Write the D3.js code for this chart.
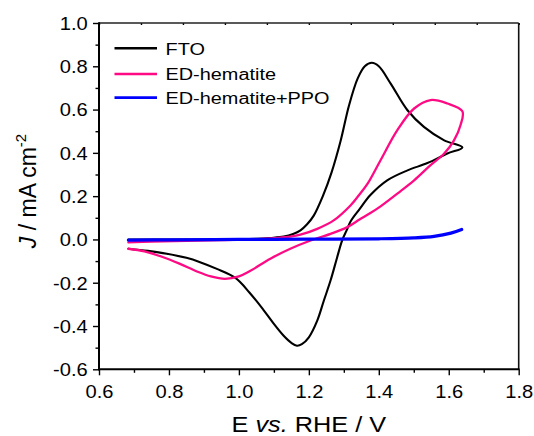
<!DOCTYPE html>
<html>
<head>
<meta charset="utf-8">
<script src="https://cdn.jsdelivr.net/npm/d3@7"></script>
<style>
  html, body { margin: 0; padding: 0; background: #fff; }
  svg { display: block; font-family: Arial, "Liberation Sans", sans-serif; }
</style>
</head>
<body>
<div id="chart"></div>
<script>
// ===== DATA =====
const seriesNames = ["FTO", "ED-hematite", "ED-hematite+PPO"];
const seriesColors = ["#000000", "#ff0a84", "#0000ff"];

// FTO: forward scan, then reverse scan  [E, J]
const ftoPoints = [
  [0.684, 0.0], [0.8, 0.0], [0.9, 0.0], [1.0, 0.001], [1.05, 0.003], [1.09, 0.007],
  [1.128, 0.013], [1.155, 0.025], [1.176, 0.042], [1.195, 0.07], [1.214, 0.11],
  [1.24, 0.2], [1.265, 0.31], [1.29, 0.45], [1.315, 0.62], [1.34, 0.745],
  [1.36, 0.80], [1.38, 0.816], [1.40, 0.80], [1.434, 0.72], [1.482, 0.597],
  [1.529, 0.52], [1.587, 0.458], [1.639, 0.425],
  [1.596, 0.397], [1.539, 0.353], [1.482, 0.319], [1.424, 0.273], [1.376, 0.205],
  [1.345, 0.14], [1.32, 0.085], [1.308, 0.042], [1.295, -0.005], [1.281, -0.082],
  [1.262, -0.19], [1.243, -0.282], [1.224, -0.375], [1.2, -0.452], [1.18, -0.484],
  [1.166, -0.491], [1.15, -0.478], [1.128, -0.445], [1.1, -0.39], [1.07, -0.325],
  [1.03, -0.245], [0.99, -0.178], [0.937, -0.136], [0.889, -0.105], [0.85, -0.085],
  [0.794, -0.066], [0.74, -0.053], [0.684, -0.043]
];

const hematitePoints = [
  [0.684, -0.014], [0.75, -0.01], [0.85, -0.006], [0.95, -0.003], [1.05, 0.0],
  [1.1, 0.006], [1.147, 0.013], [1.176, 0.022], [1.224, 0.049], [1.271, 0.088],
  [1.319, 0.157], [1.343, 0.204], [1.367, 0.255], [1.405, 0.366], [1.453, 0.505],
  [1.501, 0.605], [1.548, 0.644], [1.596, 0.628], [1.639, 0.592],
  [1.634, 0.53], [1.615, 0.458], [1.587, 0.397], [1.548, 0.343], [1.501, 0.273],
  [1.453, 0.212], [1.405, 0.153], [1.376, 0.122], [1.345, 0.092], [1.31, 0.057],
  [1.262, 0.026], [1.205, -0.005], [1.147, -0.043], [1.09, -0.089], [1.033, -0.145],
  [1.0, -0.171], [0.96, -0.182], [0.92, -0.171], [0.88, -0.148], [0.83, -0.112],
  [0.78, -0.08], [0.73, -0.055], [0.684, -0.043]
];

const ppoPoints = [
  [0.684, -0.003], [0.8, -0.002], [1.0, 0.0], [1.2, 0.001], [1.4, 0.003],
  [1.5, 0.007], [1.558, 0.014], [1.606, 0.029], [1.637, 0.046]
];

const xMajorTicks = [0.6, 0.8, 1.0, 1.2, 1.4, 1.6, 1.8];
const xMinorTicks = [0.7, 0.9, 1.1, 1.3, 1.5, 1.7];
const yMajorTicks = [-0.6, -0.4, -0.2, 0.0, 0.2, 0.4, 0.6, 0.8, 1.0];
const yMinorTicks = [-0.5, -0.3, -0.1, 0.1, 0.3, 0.5, 0.7, 0.9];

// ===== CHART =====
const width = 534, height = 436;
const plotLeft = 99, plotRight = 518.7, plotTop = 23, plotBottom = 369.3;
const stretch = 1.15;

const svg = d3.select("#chart").append("svg")
  .attr("width", width)
  .attr("height", height);

const x = d3.scaleLinear().domain([0.6, 1.8]).range([plotLeft, plotRight]);
const y = d3.scaleLinear().domain([-0.6, 1.0]).range([plotBottom, plotTop]);

const fmt = d => d.toFixed(1);

// bottom axis
const gx = svg.append("g").attr("transform", `translate(0,${plotBottom})`)
  .call(d3.axisBottom(x).tickValues(xMajorTicks).tickSize(6).tickPadding(10).tickFormat(fmt));
svg.append("g").attr("transform", `translate(0,${plotBottom})`)
  .call(d3.axisBottom(x).tickValues(xMinorTicks).tickSize(3.5).tickFormat(""));

// left axis
const gy = svg.append("g").attr("transform", `translate(${plotLeft},0)`)
  .call(d3.axisLeft(y).tickValues(yMajorTicks).tickSize(6).tickPadding(5).tickFormat(fmt));
svg.append("g").attr("transform", `translate(${plotLeft},0)`)
  .call(d3.axisLeft(y).tickValues(yMinorTicks).tickSize(3.5).tickFormat(""));

// top axis: small inward ticks
svg.append("g").attr("transform", `translate(0,${plotTop})`)
  .call(d3.axisBottom(d3.scaleLinear().domain([0, 10]).range([plotLeft, plotRight]))
    .ticks(10).tickSize(2).tickFormat(""));

svg.selectAll(".domain").remove();
svg.selectAll(".tick line").attr("stroke", "#000").attr("stroke-width", 1.4);

gx.selectAll("text")
  .attr("font-size", 17.5).attr("fill", "#000")
  .attr("font-family", "Arial, 'Liberation Sans', sans-serif")
  .attr("transform", `scale(${stretch},1)`);
gy.selectAll("text")
  .attr("font-size", 17.5).attr("fill", "#000")
  .attr("font-family", "Arial, 'Liberation Sans', sans-serif")
  .attr("x", -11.3 / stretch)
  .attr("dy", "0.36em")
  .attr("transform", `scale(${stretch},1)`);

// frame
svg.append("line").attr("x1", plotLeft).attr("x2", plotRight).attr("y1", plotTop).attr("y2", plotTop)
  .attr("stroke", "#222").attr("stroke-width", 1.4);
svg.append("line").attr("x1", plotRight).attr("x2", plotRight).attr("y1", plotTop).attr("y2", plotBottom)
  .attr("stroke", "#111").attr("stroke-width", 1.6);
svg.append("line").attr("x1", plotLeft).attr("x2", plotLeft).attr("y1", plotTop - 0.7).attr("y2", plotBottom + 1)
  .attr("stroke", "#000").attr("stroke-width", 2);
svg.append("line").attr("x1", plotLeft - 1).attr("x2", plotRight + 0.8).attr("y1", plotBottom).attr("y2", plotBottom)
  .attr("stroke", "#000").attr("stroke-width", 2);

// curves
const line = d3.line()
  .x(d => x(d[0]))
  .y(d => y(d[1]))
  .curve(d3.curveCatmullRom.alpha(0.5));

const series = [ftoPoints, hematitePoints, ppoPoints];
const widths = [2.1, 2.3, 3.2];

series.forEach((pts, i) => {
  svg.append("path")
    .datum(pts)
    .attr("d", line)
    .attr("fill", "none")
    .attr("stroke", seriesColors[i])
    .attr("stroke-width", widths[i])
    .attr("stroke-linejoin", "round")
    .attr("stroke-linecap", "round");
});

// legend
const legendY = [48.3, 74, 97.7];
seriesNames.forEach((name, i) => {
  svg.append("line")
    .attr("x1", 114.5).attr("x2", 157)
    .attr("y1", legendY[i]).attr("y2", legendY[i])
    .attr("stroke", seriesColors[i])
    .attr("stroke-width", i === 2 ? 2.8 : 2.4);
  svg.append("text")
    .attr("transform", `translate(165.5,${legendY[i]}) scale(${stretch},1)`)
    .attr("dy", "0.36em")
    .attr("font-size", 17.3)
    .attr("fill", "#000")
    .text(name);
});

// x title
const xt = svg.append("text")
  .attr("transform", `translate(${(plotLeft + plotRight) / 2},432) scale(${stretch},1)`)
  .attr("text-anchor", "middle")
  .attr("font-size", 22)
  .attr("fill", "#000");
xt.append("tspan").text("E ");
xt.append("tspan").attr("font-style", "italic").text("vs.");
xt.append("tspan").text(" RHE / V");

// y title
const yt = svg.append("text")
  .attr("transform", `translate(36,191) rotate(-90)`)
  .attr("text-anchor", "middle")
  .attr("font-size", 23)
  .attr("fill", "#000");
yt.append("tspan").attr("font-style", "italic").text("J");
yt.append("tspan").text(" / mA cm");
yt.append("tspan").attr("font-size", 15).attr("dy", -10).text("-2");
</script>
</body>
</html>
